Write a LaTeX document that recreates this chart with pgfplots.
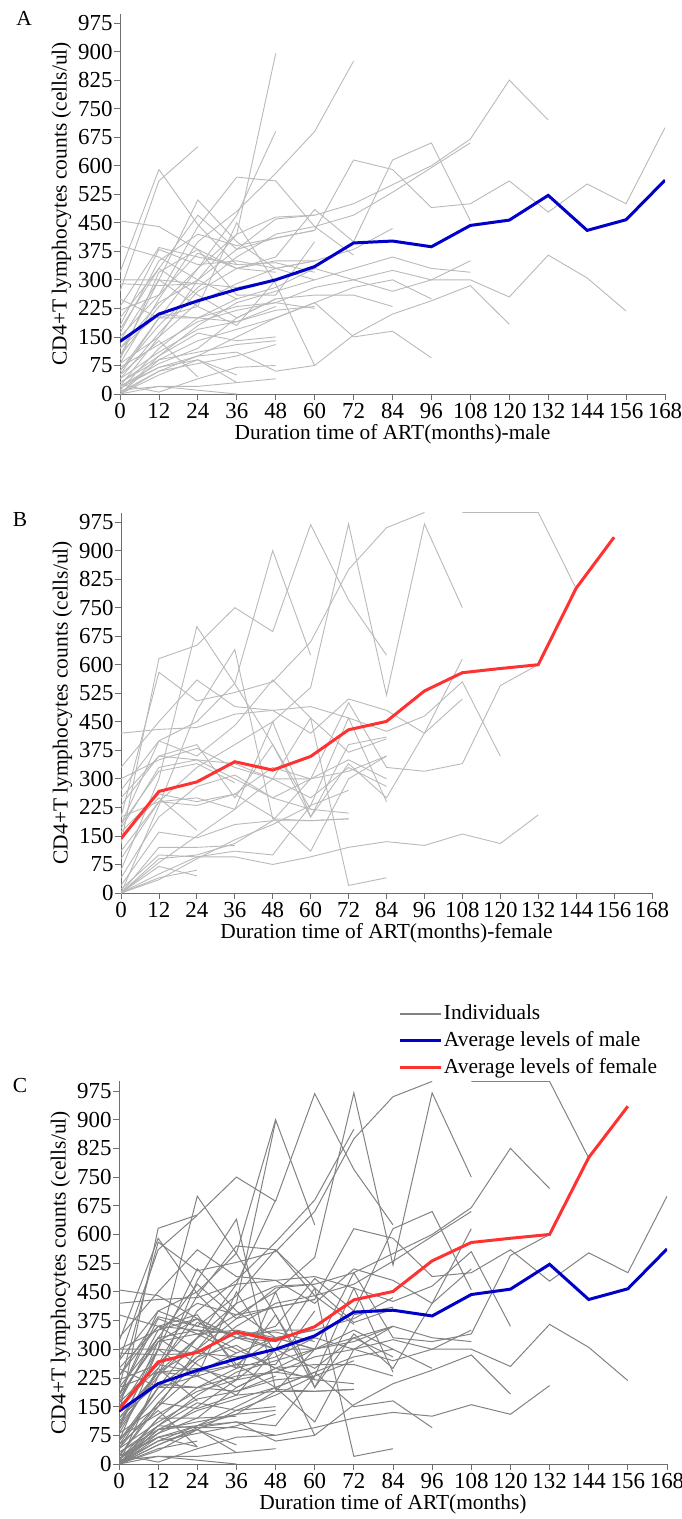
\documentclass[border=0pt]{standalone}
\usepackage{fontspec}
\setmainfont{Liberation Serif}
\usepackage{pgfplots}
\pgfplotsset{compat=1.18}
\definecolor{avgblue}{RGB}{0,0,200}
\definecolor{avgred}{RGB}{255,50,50}
\definecolor{indlight}{RGB}{185,185,185}
\definecolor{inddark}{RGB}{130,130,130}
\definecolor{axgray}{RGB}{110,110,110}

\newcommand{\maleind}{%
\addplot[indiv] coordinates {(0,455)(12,440)(24,380)(36,330)(48,320)};
\addplot[indiv] coordinates {(0,320)(12,590)(24,445)(36,340)};
\addplot[indiv] coordinates {(0,270)(12,560)(24,650)};
\addplot[indiv] coordinates {(0,390)(12,360)(24,300)(36,250)};
\addplot[indiv] coordinates {(0,300)(12,300)(24,290)};
\addplot[indiv] coordinates {(0,290)(12,285)(24,290)(36,280)(48,300)};
\addplot[indiv] coordinates {(0,230)(12,385)(24,360)(36,340)(48,345)(60,320)};
\addplot[indiv] coordinates {(0,180)(12,380)(24,340)(36,350)(48,330)(60,350)};
\addplot[indiv] coordinates {(0,100)(12,300)(24,510)(36,400)(48,330)(60,300)};
\addplot[indiv] coordinates {(0,60)(12,200)(24,230)(36,450)(48,290)(60,75)(72,155)(84,210)(96,245)(108,285)(120,183)};
\addplot[indiv] coordinates {(0,20)(12,150)(24,300)(36,420)(48,895)};
\addplot[indiv] coordinates {(0,50)(12,200)(24,330)(36,470)(48,690)};
\addplot[indiv] coordinates {(0,80)(12,250)(24,400)(36,480)(48,580)(60,690)(72,875)};
\addplot[indiv] coordinates {(0,150)(12,260)(24,440)(36,570)(48,560)(60,440)(72,365)};
\addplot[indiv] coordinates {(0,100)(12,230)(24,330)(36,420)(48,465)(60,470)(72,500)(84,550)(96,600)(108,670)(120,825)(132,720)};
\addplot[indiv] coordinates {(0,60)(12,180)(24,280)(36,360)(48,420)(60,440)(72,470)(84,530)(96,595)(108,660)};
\addplot[indiv] coordinates {(0,120)(12,240)(24,300)(36,380)(48,410)(60,430)(72,615)(84,590)(96,490)(108,500)(120,560)(132,478)(144,552)(156,500)(168,700)};
\addplot[indiv] coordinates {(0,40)(12,160)(24,270)(36,330)(48,360)(60,485)(72,400)(84,615)(96,660)(108,455)};
\addplot[indiv] coordinates {(0,10)(12,120)(24,200)(36,250)(48,280)(60,330)(72,300)(84,270)(96,300)(108,350)};
\addplot[indiv] coordinates {(0,30)(12,100)(24,180)(36,240)(48,270)(60,300)(72,330)(84,360)(96,330)(108,320)};
\addplot[indiv] coordinates {(0,70)(12,130)(24,190)(36,220)(48,240)(60,280)(72,300)(84,325)(96,300)(108,300)(120,255)(132,365)(144,305)(156,218)};
\addplot[indiv] coordinates {(0,20)(12,80)(24,120)(36,200)(48,250)(60,260)(72,260)(84,230)};
\addplot[indiv] coordinates {(0,5)(12,60)(24,100)(36,150)(48,200)(60,240)(72,280)(84,300)(96,250)};
\addplot[indiv] coordinates {(0,15)(12,70)(24,100)(36,110)(48,60)(60,75)};
\addplot[indiv] coordinates {(0,30)(12,90)(24,140)(36,170)(48,200)(60,240)(72,150)(84,165)(96,95)};
\addplot[indiv] coordinates {(0,0)(12,20)(24,10)(36,0)};
\addplot[indiv] coordinates {(0,10)(12,20)(24,20)(36,30)(48,40)};
\addplot[indiv] coordinates {(0,25)(12,5)(24,40)(36,70)(48,75)};
\addplot[indiv] coordinates {(0,0)(12,60)(24,80)(36,100)(48,130)};
\addplot[indiv] coordinates {(0,0)(12,90)(24,110)(36,130)(48,140)};
\addplot[indiv] coordinates {(0,20)(12,70)(24,90)(36,30)};
\addplot[indiv] coordinates {(0,50)(12,140)(24,45)};
\addplot[indiv] coordinates {(0,120)(12,210)(24,200)(36,230)(48,240)(60,225)};
\addplot[indiv] coordinates {(0,200)(12,330)(24,260)(36,200)(48,250)};
\addplot[indiv] coordinates {(0,250)(12,200)(24,200)(36,190)(48,230)};
\addplot[indiv] coordinates {(0,160)(12,350)(24,420)(36,390)(48,410)(60,430)};
\addplot[indiv] coordinates {(0,220)(12,260)(24,370)(36,330)(48,350)(60,350)};
\addplot[indiv] coordinates {(0,90)(12,320)(24,380)(36,260)(48,260)(60,400)};
\addplot[indiv] coordinates {(0,40)(12,110)(24,170)(36,190)(48,220)(60,230)};
\addplot[indiv] coordinates {(0,140)(12,300)(24,230)(36,180)(48,300)(60,330)};
\addplot[indiv] coordinates {(0,0)(12,50)(24,90)(36,50)};
\addplot[indiv] coordinates {(0,80)(12,150)(24,240)(36,290)(48,330)(60,350)(72,380)(84,435)};
\addplot[indiv] coordinates {(0,0)(12,100)(24,160)(36,140)(48,150)};
\addplot[indiv] coordinates {(0,170)(12,330)(24,470)(36,380)(48,460)(60,470)};
}

\newcommand{\femaleind}{%
\addplot[indiv] coordinates {(0,200)(12,580)(24,505)(36,527)(48,555)(60,660)(72,850)(84,960)(96,1000)};
\addplot[indiv] coordinates {(0,130)(12,616)(24,651)(36,750)(48,687)(60,968)(72,770)(84,625)};
\addplot[indiv] coordinates {(0,180)(12,400)(24,450)(36,551)(48,900)(60,625)};
\addplot[indiv] coordinates {(0,90)(12,240)(24,330)(36,390)(48,450)(60,540)(72,970)(84,520)(96,970)(108,750)};
\addplot[indiv] coordinates {(0,60)(12,300)(24,700)(36,550)(48,390)(60,220)};
\addplot[indiv] coordinates {(0,0)(12,230)(24,480)(36,640)(48,195)(60,190)(72,195)};
\addplot[indiv] coordinates {(0,420)(12,430)(24,435)(36,470)(48,480)(60,490)(72,460)(84,425)(96,465)(108,555)(120,360)};
\addplot[indiv] coordinates {(0,330)(12,450)(24,560)(36,490)(48,480)(60,420)(72,510)(84,480)(96,420)(108,510)};
\addplot[indiv] coordinates {(0,270)(12,400)(24,360)(36,440)(48,560)(60,460)(72,370)(84,405)};
\addplot[indiv] coordinates {(0,300)(12,350)(24,380)(36,330)(48,300)(60,250)(72,330)(84,280)};
\addplot[indiv] coordinates {(0,250)(12,360)(24,350)(36,340)(48,300)(60,300)(72,500)(84,330)(96,320)(108,340)(120,545)(132,600)};
\addplot[indiv] coordinates {(0,200)(12,240)(24,250)(36,220)(48,450)(60,200)(72,340)(84,250)(96,420)(108,615)};
\addplot[indiv] coordinates {(0,180)(12,320)(24,340)(36,290)};
\addplot[indiv] coordinates {(0,160)(12,260)(24,240)(36,260)(48,200)(60,110)(72,300)(84,360)};
\addplot[indiv] coordinates {(0,170)(12,330)(24,350)(36,300)(48,250)(60,220)(72,210)};
\addplot[indiv] coordinates {(0,150)(12,250)(24,165)};
\addplot[indiv] coordinates {(0,230)(12,360)(24,390)(36,250)(48,390)(60,200)(72,390)(84,410)};
\addplot[indiv] coordinates {(0,0)(12,50)(24,95)(36,95)(48,75)(60,95)(72,120)(84,135)(96,125)(108,155)(120,130)(132,205)};
\addplot[indiv] coordinates {(0,0)(12,90)(24,100)(36,130)(48,190)(60,190)(72,195)};
\addplot[indiv] coordinates {(0,0)(12,120)(24,120)(36,125)};
\addplot[indiv] coordinates {(0,0)(12,40)(24,60)};
\addplot[indiv] coordinates {(0,0)(12,70)(24,45)};
\addplot[indiv] coordinates {(0,10)(12,100)(24,95)(36,110)(48,100)(60,230)(72,460)(84,240)};
\addplot[indiv] coordinates {(0,0)(12,80)(24,150)(36,220)(48,300)(60,460)(72,20)(84,40)};
\addplot[indiv] coordinates {(0,20)(12,160)(24,145)(36,180)(48,190)(60,300)(72,320)(84,360)};
\addplot[indiv] coordinates {(0,0)(12,35)(24,90)(36,140)(48,180)(60,230)(72,270)};
\addplot[indiv] coordinates {(0,110)(12,240)(24,230)(36,260)(48,330)(60,300)};
\addplot[indiv] coordinates {(0,40)(12,200)(24,280)(36,310)(48,250)(60,300)(72,350)(84,300)};
\addplot[indiv] coordinates {(108,1000)(120,1000)(132,1000)(144,800)};
}

\newcommand{\maleavg}{\addplot[avgblue, line width=3bp] coordinates {(0,138)(12,210)(24,245)(36,275)(48,300)(60,335)(72,397)(84,402)(96,387)(108,443)(120,457)(132,522)(144,430)(156,458)(168,562)};}
\newcommand{\femaleavg}{\addplot[avgred, line width=3bp] coordinates {(0,143)(12,267)(24,292)(36,345)(48,323)(60,359)(72,429)(84,451)(96,531)(108,579)(120,590)(132,600)(144,801)(156,935)};}

\pgfplotsset{panel/.style={
  scale only axis, axis lines=left, axis line style={axgray, line width=1bp, -},
  xmin=0, xmax=168, ymin=0, ymax=1000,
  xtick={0,12,...,168}, ytick={0,75,...,975},
  tick align=outside, major tick length=6bp, tick style={axgray, line width=0.8bp},
  ticklabel style={font=\fontsize{23}{25}\selectfont},
  xticklabel shift=0bp, yticklabel shift=-2bp,
  /pgf/number format/assume math mode=true,
  label style={font=\fontsize{21.5}{24}\selectfont},
  xlabel shift=-1bp, ylabel shift=0bp,
  ylabel={CD4+T lymphocytes counts (cells/ul)},
  indiv/.style={indlight, line width=0.9bp, forget plot},
  anchor=south west,
}}

\begin{document}
\begin{tikzpicture}
\path[use as bounding box] (0bp,0bp) rectangle (682bp,-1519bp);
\begin{axis}[panel, at={(120bp,-394bp)}, width=545bp, height=380.5bp,
  xlabel={Duration time of ART(months)-male}]
\maleind
\maleavg
\end{axis}
\begin{axis}[panel, at={(121bp,-893bp)}, width=531bp, height=380.5bp,
  xlabel={Duration time of ART(months)-female}]
\femaleind
\femaleavg
\end{axis}
\begin{axis}[panel, at={(119bp,-1464bp)}, width=548bp, height=382.6bp,
  xlabel={Duration time of ART(months)},
  indiv/.style={inddark, line width=1bp, forget plot},
  legend style={draw=none, fill=none, at={(axis description cs:0.505,1.21)}, anchor=north west,
    font=\fontsize{21.5}{24}\selectfont, nodes={inner sep=1bp, text height=15bp, text depth=4bp}, row sep=6bp},
  legend cell align=left,
  legend image code/.code={\draw[#1] (0bp,0bp) -- (41bp,0bp);}]
\addlegendimage{inddark, line width=1.5bp}
\addlegendentry{Individuals}
\addlegendimage{avgblue, line width=3bp}
\addlegendentry{Average levels of male}
\addlegendimage{avgred, line width=3bp}
\addlegendentry{Average levels of female}
\maleind
\femaleind
\maleavg
\femaleavg
\end{axis}
\node[font=\fontsize{21.5}{24}\selectfont] at (24bp,-18bp) {A};
\node[font=\fontsize{21.5}{24}\selectfont] at (20bp,-520bp) {B};
\node[font=\fontsize{21.5}{24}\selectfont] at (20bp,-1085bp) {C};
\end{tikzpicture}
\end{document}
